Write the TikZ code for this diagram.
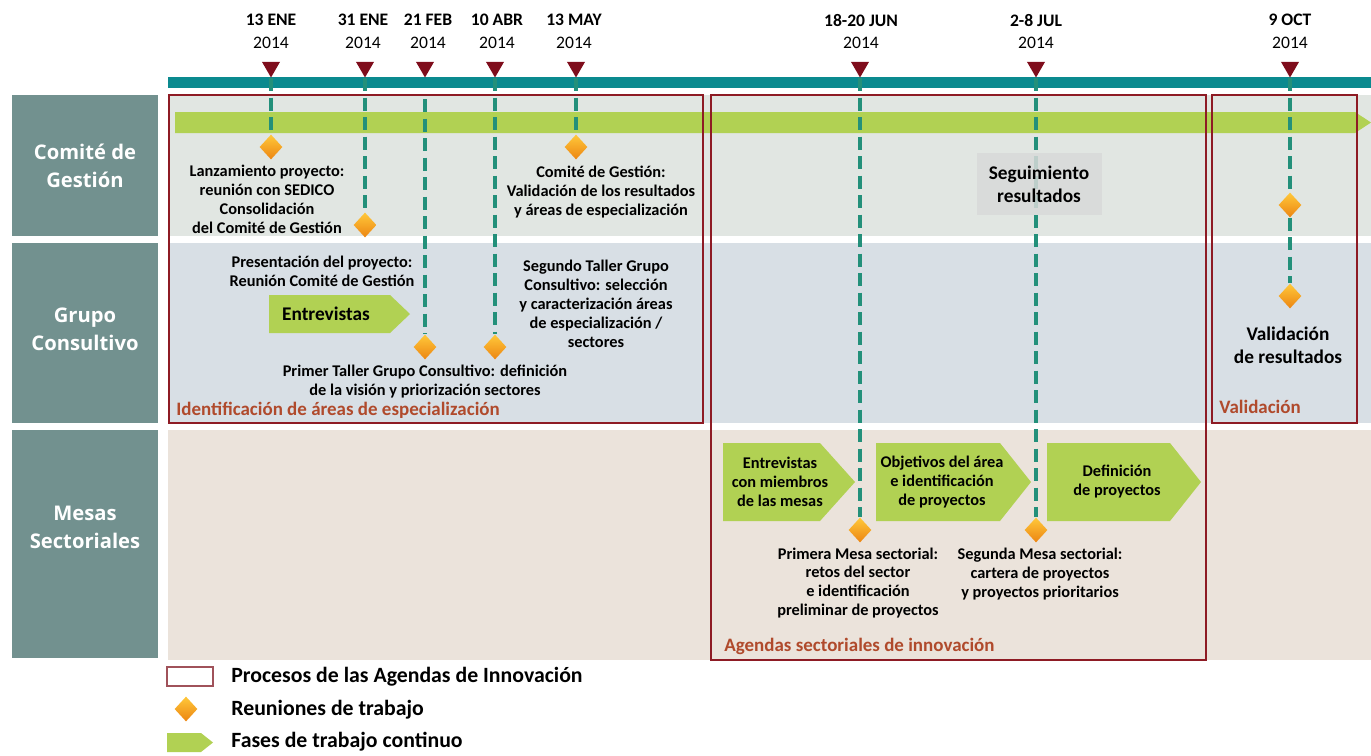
\documentclass[tikz,border=0pt]{standalone}
\usepackage{fontspec}
\setmainfont{Carlito}
\newfontfamily\rowfont{Open Sans}
\usetikzlibrary{shapes.geometric}
\definecolor{barteal}{HTML}{0B8A8F}
\definecolor{tridark}{HTML}{7F0D1C}
\definecolor{dashteal}{HTML}{23907A}
\definecolor{phasegreen}{HTML}{B1D153}
\definecolor{rowgrey}{HTML}{72918F}
\definecolor{bgone}{HTML}{E1E6E2}
\definecolor{bgtwo}{HTML}{D8DFE5}
\definecolor{bgthree}{HTML}{EBE3DB}
\definecolor{boxred}{HTML}{8E1B24}
\definecolor{labred}{HTML}{B04A2C}
\definecolor{segbox}{HTML}{D8DAD9}
\definecolor{legred}{HTML}{A0525A}
\definecolor{dmtop}{HTML}{FFC83A}
\definecolor{dmbot}{HTML}{EC8512}
\tikzset{
	tri/.style={regular polygon,regular polygon sides=3,shape border rotate=180,fill=tridark,minimum size=0.42cm,inner sep=0pt},
	meet/.style={diamond,top color=dmtop,bottom color=dmbot,minimum width=0.46cm,minimum height=0.5cm,inner sep=0pt},
	dline/.style={dashteal,line width=1.8pt,dash pattern=on 0.26cm off 0.13cm},
	lbl/.style={font=\fontsize{9.3}{10.8}\selectfont\bfseries,align=center,inner sep=0pt},
	big/.style={font=\fontsize{11}{13}\selectfont\bfseries,align=center,inner sep=0pt},
	datebold/.style={font=\fontsize{10}{12}\selectfont\bfseries,inner sep=0pt},
	dateyear/.style={font=\fontsize{10}{12}\selectfont,inner sep=0pt},
	rowlbl/.style={font=\fontsize{11.5}{16}\selectfont\rowfont\bfseries,text=white,align=center,inner sep=0pt},
	phase/.style={font=\fontsize{10.8}{12}\selectfont\bfseries,text=labred,anchor=west,inner sep=0pt},
	legtext/.style={font=\fontsize{12.4}{14}\selectfont\bfseries,anchor=west,inner sep=0pt},
	procbox/.style={boxred,line width=1.1pt}
}
\begin{document}
\begin{tikzpicture}[x=0.02cm,y=-0.02cm]
	\useasboundingbox (0,0) rectangle (1371,755) ;
	\fill[bgone] (168,95) rectangle (1371,236) ;
	\fill[bgtwo] (168,243) rectangle (1371,423) ;
	\fill[bgthree] (168,430) rectangle (1371,660) ;
	\fill[rowgrey] (12,95) rectangle (158,236) ;
	\fill[rowgrey] (12,243) rectangle (158,423) ;
	\fill[rowgrey] (12,430) rectangle (158,658) ;
	\draw (85,166) node[rowlbl] (comite) {Comité de\\Gestión} ;
	\draw (85,329) node[rowlbl] (grupo) {Grupo\\Consultivo} ;
	\draw (85,527) node[rowlbl] (mesas) {Mesas\\Sectoriales} ;
	\fill[barteal] (168,77) rectangle (1371,88) ;
	\fill[phasegreen] (175,112) -- (1355,112) -- (1371,122.5) -- (1355,133) -- (175,133) -- cycle ;
	\fill[phasegreen] (269,295) -- (390,295) -- (410,314) -- (390,333) -- (269,333) -- cycle ;
	\fill[phasegreen] (723,443) -- (820,443) -- (855,482) -- (820,521) -- (723,521) -- cycle ;
	\fill[phasegreen] (876,443) -- (1000,443) -- (1031,482) -- (1000,521) -- (876,521) -- cycle ;
	\fill[phasegreen] (1047,443) -- (1170,443) -- (1201,482) -- (1170,521) -- (1047,521) -- cycle ;
	\draw[procbox] (169,95) rectangle (703,423) ;
	\draw[procbox] (711,95) rectangle (1206,660) ;
	\draw[procbox] (1212,95) rectangle (1357,423) ;
	\draw (271,20) node[datebold] (f1) {13 ENE} ;
	\draw (363,20) node[datebold] (f2) {31 ENE} ;
	\draw (428,20) node[datebold] (f3) {21 FEB} ;
	\draw (497,20) node[datebold] (f4) {10 ABR} ;
	\draw (574,20) node[datebold] (f5) {13 MAY} ;
	\draw (861,20) node[datebold] (f6) {18-20 JUN} ;
	\draw (1036,20) node[datebold] (f7) {2-8 JUL} ;
	\draw (1290,20) node[datebold] (f8) {9 OCT} ;
	\foreach \x/\n in {271/1,363/2,428/3,497/4,574/5,861/6,1036/7,1290/8}
		\draw (\x,43) node[dateyear] (y\n) {2014} ;
	\foreach \x/\n in {271/1,365/2,425/3,495/4,576/5,860/6,1036/7,1290/8}
		\draw (\x,67) node[tri] (t\n) {} ;
	\draw (271,147) node[meet] (d1) {} ;
	\draw (365,225) node[meet] (d2) {} ;
	\draw (576,147) node[meet] (d3) {} ;
	\draw (425,347) node[meet] (d4) {} ;
	\draw (495,347) node[meet] (d5) {} ;
	\draw (1290,205) node[meet] (d6) {} ;
	\draw (1290,296) node[meet] (d7) {} ;
	\draw (860,530) node[meet] (d8) {} ;
	\draw (1036,530) node[meet] (d9) {} ;
	\draw[dline] (t1.south) -- (d1.north) ;
	\draw[dline] (t2.south) -- (d2.north) ;
	\draw[dline] ([yshift=-0.42cm]t3.south) -- (d4.north) ;
	\draw[dline] (t4.south) -- (d5.north) ;
	\draw[dline] (t5.south) -- (d3.north) ;
	\draw[dline] (t6.south) -- (d8.north) ;
	\draw[dline] (t7.south) -- (d9.north) ;
	\draw[dline] (t8.south) -- (d6.north) ;
	\draw[dline] (d6.south) -- (d7.north) ;
	\draw (1039,184) node[big,fill=segbox,fill opacity=0.85,text opacity=1,minimum width=2.5cm,minimum height=1.24cm] (seg) {Seguimiento\\resultados} ;
	\draw (267,199) node[lbl] (lanz) {Lanzamiento proyecto:\\reunión con SEDICO\\Consolidación\\del Comité de Gestión} ;
	\draw (601,192) node[lbl] (valcg) {Comité de Gestión:\\Validación de los resultados\\y áreas de especialización} ;
	\draw (322,271) node[lbl] (pres) {Presentación del proyecto:\\Reunión Comité de Gestión} ;
	\draw (326,314) node[big] (entr) {Entrevistas} ;
	\draw (425,382) node[lbl] (taller1) {Primer Taller Grupo Consultivo: definición\\de la visión y priorización sectores} ;
	\draw (596,304) node[lbl] (taller2) {Segundo Taller Grupo\\Consultivo: selección\\y caracterización áreas\\de especialización /\\sectores} ;
	\draw (1288,345) node[big] (valres) {Validación\\de resultados} ;
	\draw (780,482) node[lbl] (entrmes) {Entrevistas\\con miembros\\de las mesas} ;
	\draw (942,482) node[lbl] (objet) {Objetivos del área\\e identificación\\de proyectos} ;
	\draw (1117,482) node[lbl] (defin) {Definición\\de proyectos} ;
	\draw (858,583) node[lbl] (mesa1) {Primera Mesa sectorial:\\retos del sector\\e identificación\\preliminar de proyectos} ;
	\draw (1040,574) node[lbl] (mesa2) {Segunda Mesa sectorial:\\cartera de proyectos\\y proyectos prioritarios} ;
	\draw (176,410) node[phase] (ph1) {Identificación de áreas de especialización} ;
	\draw (724,646) node[phase] (ph2) {Agendas sectoriales de innovación} ;
	\draw (1219,407) node[phase] (ph3) {Validación} ;
	\draw[legred,line width=1.5pt,fill=white] (167,667) rectangle (213,686) ;
	\draw (186,709) node[meet] (legd) {} ;
	\fill[phasegreen] (167,733) -- (201,733) -- (213,742.5) -- (201,752) -- (167,752) -- cycle ;
	\draw (231,677) node[legtext] (leg1) {Procesos de las Agendas de Innovación} ;
	\draw (231,710) node[legtext] (leg2) {Reuniones de trabajo} ;
	\draw (231,742) node[legtext] (leg3) {Fases de trabajo continuo} ;
\end{tikzpicture}
\end{document}
